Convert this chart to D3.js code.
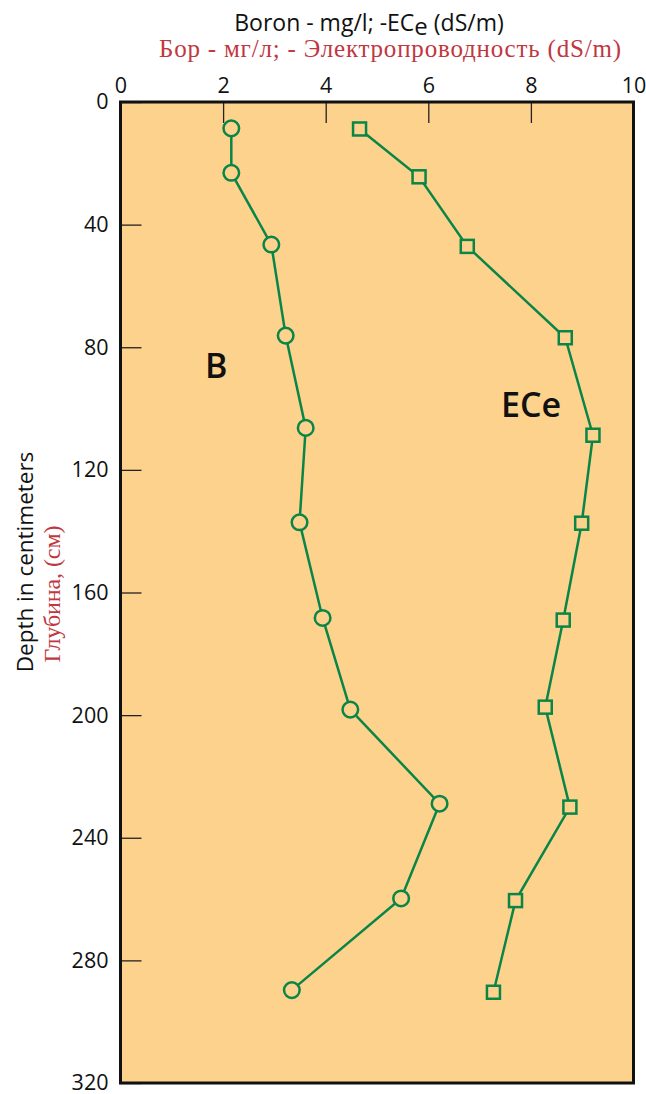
<!DOCTYPE html>
<html><head><meta charset="utf-8">
<script src="https://cdn.jsdelivr.net/npm/d3@7"></script>
<style>body{margin:0;background:#fff}svg{display:block}</style>
</head><body>
<svg id="c" width="646" height="1094"></svg>
<script>
// Data
const depthB   = [8.6, 23.1, 46.5, 76.2, 106.3, 137.1, 168.3, 198.2, 228.9, 259.8, 289.7];
const boron    = [2.16, 2.16, 2.94, 3.22, 3.61, 3.49, 3.94, 4.48, 6.22, 5.47, 3.34];
const depthE   = [8.8, 24.4, 47.1, 76.9, 108.7, 137.4, 169.0, 197.4, 230.0, 260.5, 290.4];
const ece      = [4.66, 5.82, 6.76, 8.67, 9.21, 8.99, 8.63, 8.28, 8.76, 7.70, 7.27];
const xTicks   = [0, 2, 4, 6, 8, 10];
const yTicks   = [0, 40, 80, 120, 160, 200, 240, 280, 320];

const svg = d3.select("#c");
const L = 120.5, R = 633.5, T = 102, B = 1083;
const x = d3.scaleLinear().domain([0, 10]).range([L, R]);
const y = d3.scaleLinear().domain([0, 320]).range([T, B]);
const green = "#0a8548";
const sans = "'Open Sans', 'Noto Sans', sans-serif";
const serif = "'Liberation Serif', 'DejaVu Serif', serif";
const red = "#c1373f";

// background
svg.append("rect").attr("x", L).attr("y", T).attr("width", R - L).attr("height", B - T)
  .attr("fill", "#fdd28c");

// axes
const gx = svg.append("g").attr("transform", `translate(0,${T})`)
  .call(d3.axisTop(x).tickValues(xTicks).tickSize(-21).tickPadding(9).tickFormat(d3.format("d")));
const gy = svg.append("g").attr("transform", `translate(${L},0)`)
  .call(d3.axisLeft(y).tickValues(yTicks).tickSize(-21).tickPadding(12).tickFormat(d3.format("d")));
[gx, gy].forEach(g => {
  g.select(".domain").remove();
  g.selectAll(".tick line").attr("stroke", "#222").attr("stroke-width", 1.3);
  g.selectAll(".tick text").attr("font-family", sans).attr("font-size", 21.5).attr("fill", "#111");
});

// border
svg.append("rect").attr("x", L).attr("y", T).attr("width", R - L).attr("height", B - T)
  .attr("fill", "none").attr("stroke", "#111").attr("stroke-width", 3);

// lines
const bData = boron.map((v, i) => [v, depthB[i]]);
const eData = ece.map((v, i) => [v, depthE[i]]);
const line = d3.line().x(d => x(d[0])).y(d => y(d[1]));
svg.append("path").datum(bData).attr("d", line).attr("fill", "none").attr("stroke", green).attr("stroke-width", 2.5);
svg.append("path").datum(eData).attr("d", line).attr("fill", "none").attr("stroke", green).attr("stroke-width", 2.5);

svg.append("g").selectAll("circle").data(bData).join("circle")
  .attr("cx", d => x(d[0])).attr("cy", d => y(d[1])).attr("r", 7.8)
  .attr("fill", "#fdd28c").attr("stroke", green).attr("stroke-width", 2.5);
const s = 13;
svg.append("g").selectAll("rect").data(eData).join("rect")
  .attr("x", d => x(d[0]) - s / 2).attr("y", d => y(d[1]) - s / 2).attr("width", s).attr("height", s)
  .attr("fill", "#fdd28c").attr("stroke", green).attr("stroke-width", 2.5);

// series labels
svg.append("text").attr("x", 205).attr("y", 378).attr("font-family", sans).attr("font-weight", 600)
  .attr("font-size", 34).attr("fill", "#111").text("B");
svg.append("text").attr("x", 501).attr("y", 417).attr("font-family", sans).attr("font-weight", 600)
  .attr("font-size", 34).attr("fill", "#111").text("ECe");

// titles
const t1 = svg.append("text").attr("x", 369).attr("y", 31).attr("text-anchor", "middle")
  .attr("font-family", sans).attr("font-size", 23).attr("fill", "#111");
t1.append("tspan").text("Boron - mg/l; -EC");
t1.append("tspan").attr("dy", 4).attr("font-size", 24).text("e");
t1.append("tspan").attr("dy", -4).text(" (dS/m)");
svg.append("text").attr("x", 390).attr("y", 57).attr("text-anchor", "middle")
  .attr("font-family", serif).attr("font-size", 25).attr("fill", red)
  .attr("textLength", 462).attr("lengthAdjust", "spacing")
  .text("Бор - мг/л; - Электропроводность (dS/m)");

svg.append("text").attr("transform", "translate(33,562) rotate(-90)").attr("text-anchor", "middle")
  .attr("font-family", sans).attr("font-size", 22.5).attr("fill", "#111").text("Depth in centimeters");
svg.append("text").attr("transform", "translate(60,594) rotate(-90)").attr("text-anchor", "middle")
  .attr("font-family", serif).attr("font-size", 24).attr("fill", red)
  .attr("textLength", 137).attr("lengthAdjust", "spacing").text("Глубина, (см)");
</script>
</body></html>
